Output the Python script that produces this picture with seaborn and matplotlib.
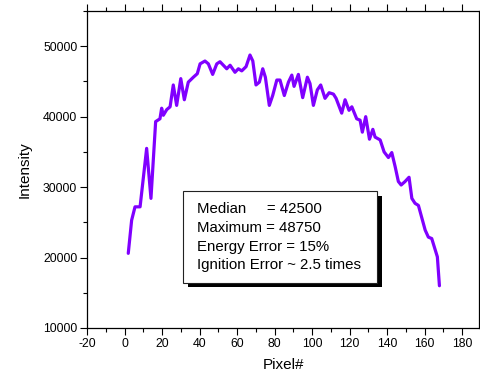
"""Intensity profile across pixels with summary box."""

import matplotlib.pyplot as plt
import matplotlib.ticker as mtick
import pandas as pd
import seaborn as sns
from matplotlib.patches import Rectangle

PIXELS = [
    2.0, 3.8, 5.6, 8.3, 11.8, 14.1, 16.6, 18.9, 19.8, 20.7, 22.5, 24.3, 26.0,
    27.8, 30.0, 31.9, 34.0, 36.7, 38.8, 40.3, 42.9, 44.7, 47.0, 49.2, 50.9,
    52.7, 54.5, 56.3, 58.9, 60.7, 62.5, 64.8, 66.9, 68.4, 70.1, 71.9, 73.7,
    75.1, 77.2, 79.0, 81.2, 82.9, 85.2, 87.4, 89.2, 90.4, 92.7, 95.0, 97.5,
    98.9, 100.7, 102.8, 104.6, 106.9, 109.1, 111.4, 112.8, 115.8, 117.6,
    119.7, 121.2, 123.8, 125.6, 126.8, 128.6, 130.6, 132.4, 133.6, 136.3,
    138.4, 140.7, 142.5, 144.3, 146.0, 147.5, 149.6, 151.7, 153.2, 154.9,
    156.7, 160.3, 162.0, 163.8, 166.8, 167.9,
]
INTENSITY = [
    20600, 25300, 27200, 27200, 35500, 28400, 39300, 39700, 41200, 40200,
    41000, 41400, 44500, 41600, 45400, 42400, 44900, 45600, 46100, 47500,
    47900, 47500, 46000, 47500, 47800, 47300, 46800, 47300, 46300, 46800,
    46500, 47100, 48750, 47900, 44500, 44900, 46800, 45600, 41600, 43000,
    45200, 45200, 43000, 44900, 45900, 44300, 46000, 42700, 45600, 44700,
    41600, 43800, 44500, 42600, 43400, 43200, 42600, 40500, 42400, 40900,
    41400, 39700, 39500, 37800, 40000, 36800, 38200, 37100, 36700, 35000,
    34200, 34900, 32900, 30800, 30300, 30800, 31400, 28400, 27700, 27400,
    23900, 22900, 22700, 20100, 16000,
]
SUMMARY_LINES = [
    "Median     = 42500",
    "Maximum = 48750",
    "Energy Error = 15%",
    "Ignition Error ~ 2.5 times",
]

sns.set_style("ticks")
plt.rcParams["font.family"] = ["Liberation Sans", "DejaVu Sans"]
plt.rcParams["axes.unicode_minus"] = False
plt.rcParams["text.color"] = "black"
plt.rcParams["axes.labelcolor"] = "black"

frame = pd.DataFrame({"Pixel#": PIXELS, "Intensity": INTENSITY})

fig = plt.figure(figsize=(4.81, 3.83), dpi=100)
ax = fig.add_axes([87 / 481, 1 - 328 / 383, 392 / 481, 317 / 383])
sns.lineplot(data=frame, x="Pixel#", y="Intensity", color="#8000ff",
             linewidth=2.3, ax=ax)

ax.set_xlim(-20, 189)
ax.set_ylim(10000, 55000)
ax.xaxis.set_major_locator(mtick.MultipleLocator(20))
ax.xaxis.set_minor_locator(mtick.MultipleLocator(10))
ax.yaxis.set_major_locator(mtick.MultipleLocator(10000))
ax.yaxis.set_minor_locator(mtick.MultipleLocator(5000))
ax.tick_params(which="both", direction="out", top=True, right=False,
               colors="black", labelsize=8.8, width=0.8)
ax.tick_params(which="major", length=5, pad=2)
ax.tick_params(which="minor", length=3)
for spine in ax.spines.values():
    spine.set_visible(True)
    spine.set_linewidth(0.9)
    spine.set_color("black")
ax.set_xlabel("Pixel#", fontsize=11, labelpad=6)
ax.set_ylabel("Intensity", fontsize=11, labelpad=8)

# shadowed summary box
ax.add_patch(Rectangle((0.2577, 0.1284), 0.4941, 0.288, transform=ax.transAxes,
                       facecolor="black", edgecolor="none", zorder=4))
ax.add_patch(Rectangle((0.2457, 0.1429), 0.4933, 0.2902, transform=ax.transAxes,
                       facecolor="white", edgecolor="#222222", linewidth=0.8,
                       zorder=5))
for text_line, y_pos in zip(SUMMARY_LINES, [0.3754, 0.3155, 0.2555, 0.1987]):
    ax.text(0.2798, y_pos, text_line, transform=ax.transAxes, fontsize=10.8,
            va="center", ha="left", color="black", zorder=6)

fig.savefig("out.png", dpi=100)
